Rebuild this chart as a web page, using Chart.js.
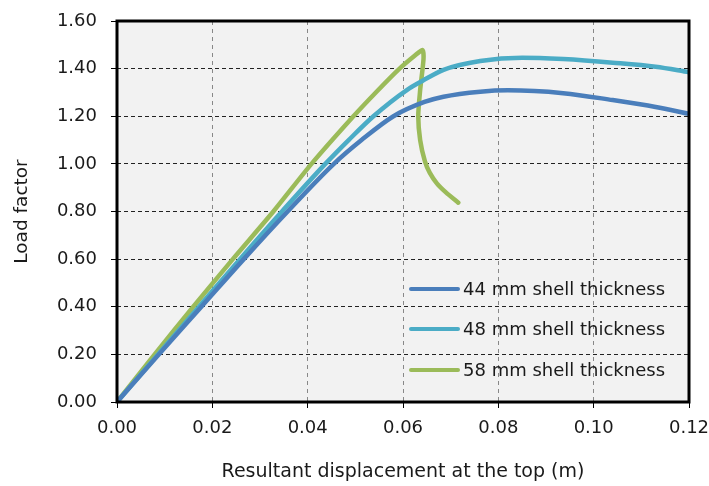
<!DOCTYPE html>
<html>
<head>
<meta charset="utf-8">
<script src="https://cdn.jsdelivr.net/npm/chart.js@4.4.1/dist/chart.umd.min.js"></script>
<style>
  body { margin: 0; background: #fff; }
  #wrap { width: 709px; height: 486px; }
</style>
</head>
<body>
<div id="wrap"><canvas id="lineChart" width="709" height="486"></canvas></div>
<script>
'use strict';

const seriesLabels = ['44 mm shell thickness', '48 mm shell thickness', '58 mm shell thickness'];

const x44 = [0, 0.0088, 0.0177, 0.0266, 0.0358, 0.0455, 0.0513, 0.0580, 0.0645, 0.0685, 0.0762, 0.0820, 0.0936, 0.104, 0.113, 0.12];
const y44 = [0, 0.20, 0.40, 0.60, 0.80, 1.00, 1.10, 1.20, 1.26, 1.282, 1.303, 1.309, 1.297, 1.268, 1.239, 1.21];

const x48 = [0, 0.0086, 0.0172, 0.0258, 0.0346, 0.0437, 0.0486, 0.0538, 0.0608, 0.0642, 0.0685, 0.0762, 0.0850, 0.0936, 0.104, 0.113, 0.12];
const y48 = [0, 0.20, 0.40, 0.60, 0.80, 1.00, 1.10, 1.20, 1.31, 1.35, 1.395, 1.432, 1.446, 1.44, 1.425, 1.408, 1.385];

const x58 = [0, 0.0079, 0.016, 0.0243, 0.0328, 0.0408, 0.0496, 0.0543, 0.059, 0.0625, 0.0641, 0.0643, 0.0636, 0.0632, 0.0636, 0.0646, 0.0656, 0.0671, 0.0690, 0.0716];
const y58 = [0, 0.20, 0.40, 0.60, 0.80, 1.00, 1.20, 1.30, 1.395, 1.455, 1.478, 1.44, 1.31, 1.20, 1.10, 1.01, 0.963, 0.918, 0.880, 0.837];

const xTicks = [0, 0.02, 0.04, 0.06, 0.08, 0.10, 0.12];
const yTicks = [0, 0.2, 0.4, 0.6, 0.8, 1.0, 1.2, 1.4, 1.6];

const colors = ['#4a7ebb', '#4bacc6', '#9bbb59'];

function toPoints(xs, ys) {
  return xs.map((x, i) => ({x: x, y: ys[i]}));
}

const FONT = 'DejaVu Sans';
const TEXT = '#1a1a1a';

const plotBox = {
  id: 'plotBox',
  beforeDraw(chart) {
    const a = chart.chartArea;
    const ctx = chart.ctx;
    ctx.save();
    ctx.fillStyle = '#f2f2f2';
    ctx.fillRect(a.left, a.top, a.right - a.left, a.bottom - a.top);
    ctx.restore();
  },
  afterDraw(chart) {
    const a = chart.chartArea;
    const ctx = chart.ctx;
    ctx.save();
    ctx.strokeStyle = '#000';
    ctx.lineWidth = 3;
    ctx.strokeRect(a.left, a.top, a.right - a.left, a.bottom - a.top);

    // legend inside the plot
    ctx.font = '18px ' + FONT;
    ctx.textBaseline = 'middle';
    ctx.fillStyle = TEXT;
    const rows = [289, 329, 370];
    chart.data.datasets.forEach((ds, i) => {
      ctx.strokeStyle = ds.borderColor;
      ctx.lineWidth = 4;
      ctx.lineCap = 'round';
      ctx.beginPath();
      ctx.moveTo(411, rows[i]);
      ctx.lineTo(458, rows[i]);
      ctx.stroke();
      ctx.fillText(ds.label, 463, rows[i] + 1);
    });
    ctx.restore();
  }
};

const lineStyle = {
  showLine: true,
  borderWidth: 4.5,
  pointRadius: 0,
  borderCapStyle: 'round',
  borderJoinStyle: 'round'
};

const lineChart = new Chart(document.getElementById('lineChart'), {
  type: 'scatter',
  data: {
    datasets: [
      Object.assign({label: seriesLabels[0], data: toPoints(x44, y44), borderColor: colors[0],
        backgroundColor: colors[0], cubicInterpolationMode: 'monotone'}, lineStyle),
      Object.assign({label: seriesLabels[1], data: toPoints(x48, y48), borderColor: colors[1],
        backgroundColor: colors[1], cubicInterpolationMode: 'monotone'}, lineStyle),
      Object.assign({label: seriesLabels[2], data: toPoints(x58, y58), borderColor: colors[2],
        backgroundColor: colors[2], tension: 0.25}, lineStyle)
    ]
  },
  options: {
    responsive: false,
    animation: false,
    layout: {padding: {top: 21, right: 20, left: 0, bottom: 3}},
    plugins: {legend: {display: false}, tooltip: {enabled: false}},
    scales: {
      x: {
        type: 'linear',
        min: 0,
        max: 0.12,
        afterBuildTicks(scale) { scale.ticks = xTicks.map(v => ({value: v})); },
        afterFit(scale) {
          scale.height = 81;
          scale.paddingLeft = 0;
          scale.paddingRight = 0;
        },
        ticks: {
          color: TEXT,
          font: {family: FONT, size: 18},
          padding: 10,
          maxRotation: 0,
          callback: v => v.toFixed(2)
        },
        grid: {color: '#888', lineWidth: 1, tickLength: 6, tickColor: '#000'},
        border: {display: false, dash: [4, 4]},
        title: {
          display: true,
          text: 'Resultant displacement at the top (m)',
          color: TEXT,
          font: {family: FONT, size: 19},
          padding: {top: 10, bottom: 0}
        }
      },
      y: {
        min: 0,
        max: 1.6,
        afterBuildTicks(scale) { scale.ticks = yTicks.map(v => ({value: v})); },
        afterFit(scale) {
          scale.width = 117;
          scale.paddingTop = 0;
          scale.paddingBottom = 0;
        },
        ticks: {
          color: TEXT,
          font: {family: FONT, size: 18},
          padding: 14,
          callback: v => v.toFixed(2)
        },
        grid: {color: '#222', lineWidth: 1, tickLength: 6, tickColor: '#000'},
        border: {display: false, dash: [4, 3]},
        title: {
          display: true,
          text: 'Load factor',
          color: TEXT,
          font: {family: FONT, size: 18.5},
          padding: {top: 11, bottom: 0}
        }
      }
    }
  },
  plugins: [plotBox]
});
</script>
</body>
</html>
